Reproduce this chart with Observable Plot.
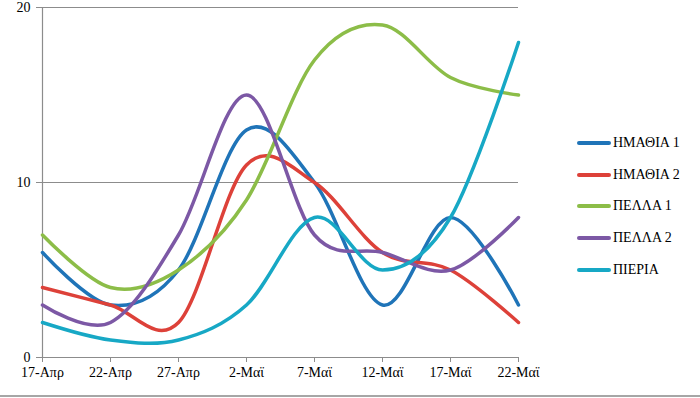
<!DOCTYPE html>
<html>
<head>
<meta charset="utf-8">
<script src="https://cdn.jsdelivr.net/npm/d3@7"></script>
<script src="https://cdn.jsdelivr.net/npm/@observablehq/plot@0.6"></script>
<style>
  body { margin: 0; background: #fff; }
  #wrap { position: relative; width: 700px; height: 398px; overflow: hidden; }
  #legend { position: absolute; left: 577px; top: 127px; font-family: "Liberation Serif", Tinos, "DejaVu Serif", serif; font-size: 14px; color: #000; }
  .item { display: flex; align-items: center; height: 31.7px; }
  .sw { width: 34px; height: 4px; border-radius: 2px; margin-right: 2px; }
  #bottom { position: absolute; left: 0; top: 395px; width: 700px; height: 2px; background: #a6a6a6; }
  svg text { font-family: "Liberation Serif", Tinos, "DejaVu Serif", serif !important; }
</style>
</head>
<body>
<div id="wrap">
  <div id="chart"></div>
  <div id="legend"></div>
  <div id="bottom"></div>
</div>
<script>
const dates = ["17-Απρ", "22-Απρ", "27-Απρ", "2-Μαϊ", "7-Μαϊ", "12-Μαϊ", "17-Μαϊ", "22-Μαϊ"];
const seriesNames = ["ΗΜΑΘΙΑ 1", "ΗΜΑΘΙΑ 2", "ΠΕΛΛΑ 1", "ΠΕΛΛΑ 2", "ΠΙΕΡΙΑ"];
const imathia1 = [6, 3, 5, 13, 10, 3, 8, 3];
const imathia2 = [4, 3, 2, 11, 10, 6, 5, 2];
const pella1   = [7, 4, 5, 9, 17, 19, 16, 15];
const pella2   = [3, 2, 7, 15, 7, 6, 5, 8];
const pieria   = [2, 1, 1, 3, 8, 5, 8, 18];
const colors = ["#1f74b8", "#dd4139", "#8cbd48", "#7c58a5", "#17a8c5"];
const yTicks = [0, 10, 20];

const allValues = [imathia1, imathia2, pella1, pella2, pieria];
const data = [];
seriesNames.forEach((s, i) => {
  dates.forEach((d, j) => data.push({series: s, date: d, value: allValues[i][j]}));
});

const font = '"Liberation Serif", Tinos, "DejaVu Serif", serif';
const chart = Plot.plot({
  width: 700,
  height: 398,
  marginLeft: 41,
  marginRight: 182,
  marginTop: 7,
  marginBottom: 41,
  style: {fontFamily: font, fontSize: "14px", color: "#000", background: "#fff"},
  x: {type: "point", domain: dates, padding: 0, label: null},
  y: {domain: [0, 20], label: null},
  color: {domain: seriesNames, range: colors},
  marks: [
    Plot.ruleY(yTicks.filter(t => t > 0), {stroke: "#8c8c8c", strokeWidth: 1.2}),
    Plot.ruleY([0], {stroke: "#8c8c8c", strokeWidth: 1.2}),
    Plot.ruleX([dates[0]], {y1: 0, y2: 20, stroke: "#8c8c8c", strokeWidth: 1.2}),
    Plot.axisX({ticks: dates, tickSize: 5, tickPadding: 5, stroke: "#8c8c8c", fontSize: 14, fill: "#000", label: null}),
    Plot.axisY({ticks: yTicks, tickSize: 5, tickPadding: 6, stroke: "#8c8c8c", fontSize: 14, fill: "#000", label: null}),
    Plot.line(data, {x: "date", y: "value", z: "series", stroke: "series", strokeWidth: 3.5, curve: "cardinal", tension: 0, strokeLinecap: "round"})
  ]
});
document.getElementById("chart").appendChild(chart);

const legend = document.getElementById("legend");
seriesNames.forEach((s, i) => {
  const it = document.createElement("div");
  it.className = "item";
  const sw = document.createElement("div");
  sw.className = "sw";
  sw.style.background = colors[i];
  const t = document.createElement("span");
  t.textContent = s;
  it.appendChild(sw);
  it.appendChild(t);
  legend.appendChild(it);
});
</script>
</body>
</html>
